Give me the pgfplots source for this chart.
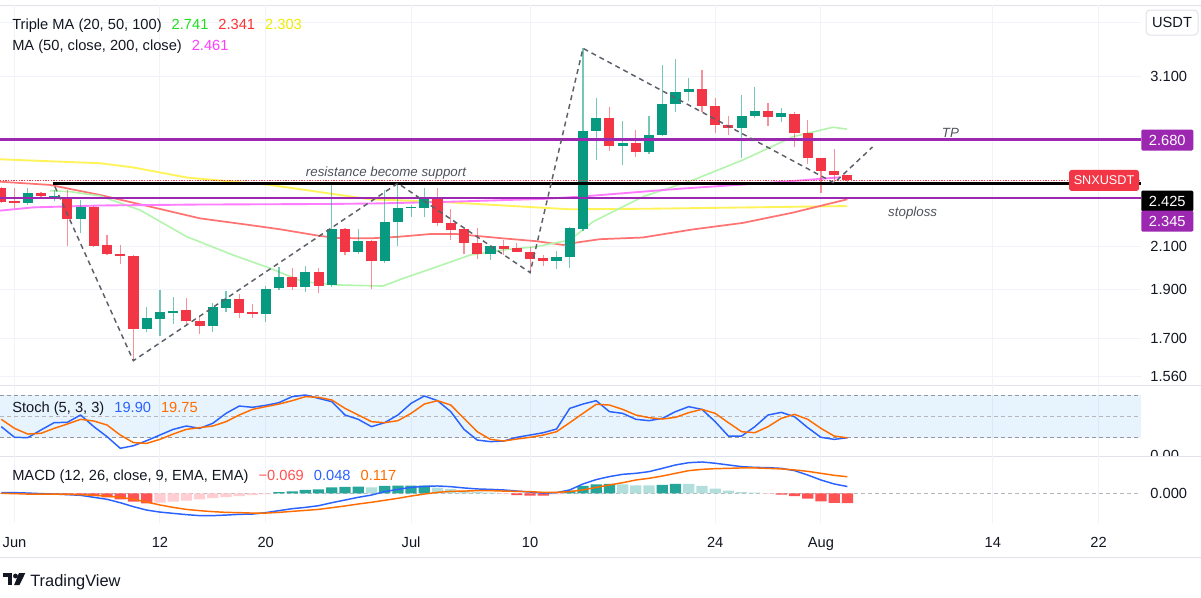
\documentclass[border=0pt]{standalone}
\usepackage{pgfplots}
\pgfplotsset{compat=1.18}
\usepackage{pgfplotstable}
\usepackage{fontspec}
\setmainfont{Liberation Sans}

\definecolor{tvtext}{HTML}{131722}
\definecolor{tvgrey}{HTML}{50535E}
\definecolor{gridc}{HTML}{F0F3FA}
\definecolor{sepc}{HTML}{E0E3EB}
\definecolor{up}{HTML}{089981}
\definecolor{dn}{HTML}{F23645}
\definecolor{purp}{HTML}{9C27B0}
\definecolor{maG}{HTML}{B4F5AE}
\definecolor{maR}{HTML}{FF7373}
\definecolor{maY}{HTML}{FFF35A}
\definecolor{maM}{HTML}{FF7BFF}
\definecolor{legG}{HTML}{1EE01E}
\definecolor{legR}{HTML}{FF3030}
\definecolor{legY}{HTML}{F2EA00}
\definecolor{legM}{HTML}{FF3DFF}
\definecolor{kblue}{HTML}{2962FF}
\definecolor{dorange}{HTML}{FF6D00}
\definecolor{hdg}{HTML}{26A69A}
\definecolor{hlg}{HTML}{B2DFDB}
\definecolor{hdr}{HTML}{FF5252}
\definecolor{hlr}{HTML}{FFCDD2}
\definecolor{zig}{HTML}{5D606B}
\definecolor{band}{HTML}{2196F3}
\definecolor{dashc}{HTML}{9598A1}

% stochastic (k, d) and macd (macd, signal), one row per daily candle
\pgfplotstableread{
d k dd macd sig
-1 35.5 45.8 0.005 0.000
0 20.5 33.1 0.005 -0.002
1 20.0 25.1 0.002 -0.005
2 30.8 26.1 -0.002 -0.005
3 41.1 33.1 -0.005 -0.005
4 41.6 39.2 -0.009 -0.007
5 51.9 45.8 -0.014 -0.009
6 35.5 43.4 -0.028 -0.014
7 21.4 37.8 -0.042 -0.019
8 5.0 23.7 -0.066 -0.028
9 8.7 13.0 -0.094 -0.042
10 15.8 12.0 -0.118 -0.061
11 23.7 17.6 -0.132 -0.082
12 31.7 25.1 -0.141 -0.099
13 36.4 31.7 -0.150 -0.113
14 33.1 34.1 -0.157 -0.122
15 40.2 36.4 -0.157 -0.129
16 54.2 42.5 -0.153 -0.134
17 64.5 51.9 -0.148 -0.136
18 62.7 59.8 -0.146 -0.139
19 65.5 63.6 -0.136 -0.139
20 69.2 67.3 -0.122 -0.134
21 77.7 72.0 -0.108 -0.127
22 80.0 77.7 -0.099 -0.120
23 75.3 76.7 -0.087 -0.113
24 70.6 73.0 -0.066 -0.101
25 51.9 61.2 -0.047 -0.089
26 45.8 51.9 -0.028 -0.075
27 35.5 42.5 -0.012 -0.063
28 41.1 41.1 0.012 -0.049
29 51.9 43.9 0.028 -0.035
30 68.3 54.2 0.042 -0.019
31 78.6 67.3 0.049 -0.005
32 72.0 72.0 0.052 0.007
33 56.6 65.9 0.047 0.014
34 31.7 47.2 0.038 0.016
35 16.7 28.4 0.031 0.019
36 14.4 17.6 0.028 0.019
37 15.3 15.3 0.024 0.016
38 20.5 18.1 0.016 0.014
39 23.7 20.5 0.009 0.012
40 27.0 23.7 0.002 0.007
41 32.2 28.4 0.005 0.007
42 61.2 41.1 0.024 0.012
43 67.3 54.2 0.066 0.024
44 72.0 66.9 0.097 0.042
45 56.6 65.9 0.118 0.059
46 54.2 59.8 0.134 0.075
47 45.8 51.9 0.141 0.094
48 43.9 48.1 0.153 0.106
49 47.2 46.2 0.176 0.122
50 56.6 48.6 0.200 0.141
51 63.6 55.2 0.216 0.160
52 59.8 59.8 0.221 0.169
53 42.5 54.2 0.212 0.174
54 22.3 41.1 0.200 0.176
55 22.3 28.4 0.188 0.179
56 35.5 27.0 0.183 0.179
57 51.9 35.5 0.181 0.176
58 55.6 47.2 0.176 0.172
59 49.5 52.8 0.160 0.165
60 34.1 45.8 0.129 0.155
61 20.5 33.1 0.094 0.141
62 17.6 22.3 0.066 0.127
63 19.9 19.75 0.048 0.117
}\ind

\pgfplotsset{
  tv/.style={scale only axis, width=855.75pt, xmin=-1.097, xmax=85.21,
    axis line style={draw=none}, tick style={draw=none}, major tick length=0pt,
    xtick={0,11,19,30,39,53,61,74,82}, xmajorgrids,
    grid style={draw=gridc, line width=0.75pt},
    clip mode=individual, anchor=north west,
    tick label style={font=\fontsize{11}{13}\selectfont, text=tvtext}},
}
\tikzset{
  lbox/.style={anchor=west, minimum width=39pt, minimum height=15.75pt,
    inner sep=0pt, text=white, rounded corners=1pt, font=\fontsize{11}{13}\selectfont},
  note/.style={font=\itshape\fontsize{10}{12}\selectfont, text=tvgrey},
}

\begin{document}
\begin{tikzpicture}[font=\fontsize{11}{13}\selectfont]
\path[use as bounding box] (0,0) rectangle (900.75pt,-447.75pt);
\fill[white] (0,0) rectangle (900.75pt,-447.75pt);
\draw[sepc, line width=0.75pt] (0,-3.75pt) -- (900.75pt,-3.75pt);
\draw[sepc, line width=0.75pt] (0,-288.75pt) -- (900.75pt,-288.75pt);
\draw[sepc, line width=0.75pt] (0,-342pt) -- (900.75pt,-342pt);
\draw[sepc, line width=0.75pt] (0,-417.75pt) -- (900.75pt,-417.75pt);

% ---------------- price pane
\begin{axis}[tv, at={(0pt,-3.75pt)}, height=285pt,
  ymode=log, ymin=1.5285, ymax=3.647, xticklabels={},
  ytick={1.56,1.7,1.9,2.1,3.1,3.5}, yticklabels={1.560,1.700,1.900,2.100,3.100,{}},
  yticklabel pos=right, ymajorgrids,
  yticklabel style={anchor=west, xshift=3.5pt}]

% moving averages
\addplot[maY, line width=1.4pt] coordinates {(-1.1,2.562)(6.47,2.539)(8.96,2.515)(13.05,2.457)(19.33,2.416)(26.89,2.338)(31.96,2.325)(42.02,2.285)(48.07,2.288)(55.63,2.295)(62.97,2.302)};
\addplot[maR, line width=1.3pt] coordinates {(-1.1,2.434)(2.69,2.416)(6.47,2.361)(10.25,2.299)(14.03,2.238)(17.81,2.204)(20.08,2.183)(23.1,2.150)(24.37,2.140)(26.89,2.138)(28.9,2.145)(31.43,2.159)(33.45,2.159)(36.95,2.138)(39.5,2.124)(41.5,2.106)(42.55,2.118)(44.3,2.134)(47.5,2.142)(51.3,2.182)(55.1,2.215)(58.9,2.268)(63,2.338)};
\addplot[maG, line width=1.2pt] coordinates {(2.69,2.384)(4.2,2.379)(6.47,2.356)(9.5,2.281)(13.03,2.146)(16.53,2.058)(19.33,1.997)(21.82,1.936)(24.37,1.922)(27.87,1.917)(29.39,1.951)(31.94,2.003)(34.46,2.058)(36.95,2.082)(39.5,2.098)(42.02,2.130)(43.76,2.221)(47.54,2.352)(51.32,2.443)(55.1,2.558)(58.89,2.698)(61.91,2.757)(62.97,2.745)};
\addplot[maM, line width=1.4pt] coordinates {(-1.1,2.278)(1.4,2.295)(6.5,2.305)(14,2.310)(24,2.313)(27.6,2.316)(33,2.325)(40,2.340)(42.8,2.352)(50.3,2.395)(57.9,2.432)(62.5,2.459)};

% candles: wicks (low, high) and bodies (open, close)
\addplot[up, opacity=0.55, line width=0.9pt, unbounded coords=jump] coordinates {
(1,2.310)(1,2.399)(1,nan)(3,2.330)(3,2.390)(3,nan)(5,2.164)(5,2.335)(5,nan)
(10,1.725)(10,1.827)(10,nan)(11,1.710)(11,1.900)(11,nan)(12,1.757)(12,1.870)(12,nan)
(15,1.726)(15,1.845)(15,nan)(16,1.808)(16,1.897)(16,nan)(19,1.766)(19,1.917)(19,nan)
(20,1.900)(20,2.004)(20,nan)(22,1.893)(22,2.008)(22,nan)(24,1.915)(24,2.431)(24,nan)
(26,2.062)(26,2.183)(26,nan)(28,2.020)(28,2.388)(28,nan)(29,2.100)(29,2.425)(29,nan)
(30,2.247)(30,2.308)(30,nan)(31,2.244)(31,2.401)(31,nan)(36,2.035)(36,2.105)(36,nan)
(41,1.992)(41,2.078)(41,nan)(42,1.996)(42,2.196)(42,nan)(43,2.175)(43,3.303)(43,nan)
(44,2.558)(44,2.946)(44,nan)(46,2.529)(46,2.799)(46,nan)(48,2.593)(48,2.829)(48,nan)
(49,2.700)(49,3.179)(49,nan)(50,2.857)(50,3.221)(50,nan)(51,2.926)(51,3.084)(51,nan)
(55,2.568)(55,2.968)(55,nan)(56,2.815)(56,3.025)(56,nan)(58,2.790)(58,2.880)};
\addplot[dn, opacity=0.55, line width=0.9pt, unbounded coords=jump] coordinates {
(-1,2.320)(-1,2.405)(-1,nan)(0,2.290)(0,2.399)(0,nan)(2,2.340)(2,2.375)(2,nan)
(4,2.100)(4,2.390)(4,nan)(6,2.095)(6,2.300)(6,nan)(7,2.060)(7,2.155)(7,nan)
(8,2.016)(8,2.106)(8,nan)(9,1.616)(9,2.058)(9,nan)(13,1.753)(13,1.866)(13,nan)
(14,1.718)(14,1.790)(14,nan)(17,1.783)(17,1.883)(17,nan)(18,1.780)(18,1.840)(18,nan)
(21,1.900)(21,1.998)(21,nan)(23,1.888)(23,1.996)(23,nan)(25,2.058)(25,2.188)(25,nan)
(27,1.903)(27,2.130)(27,nan)(32,2.200)(32,2.398)(32,nan)(33,2.130)(33,2.285)(33,nan)
(34,2.062)(34,2.183)(34,nan)(35,2.038)(35,2.188)(35,nan)(37,2.058)(37,2.130)(37,nan)
(38,2.070)(38,2.114)(38,nan)(39,1.981)(39,2.096)(39,nan)(40,2.007)(40,2.058)(40,nan)
(45,2.613)(45,2.890)(45,nan)(47,2.577)(47,2.740)(47,nan)(52,2.857)(52,3.143)(52,nan)
(53,2.723)(53,2.946)(53,nan)(54,2.709)(54,2.829)(54,nan)(57,2.765)(57,2.912)(57,nan)
(59,2.637)(59,2.857)(59,nan)(60,2.535)(60,2.803)(60,nan)(61,2.370)(61,2.570)(61,nan)
(62,2.425)(62,2.621)(62,nan)(63,2.430)(63,2.472)};
\addplot[up, line width=7.6pt, unbounded coords=jump] coordinates {
(1,2.320)(1,2.370)(1,nan)(3,2.352)(3,2.358)(3,nan)(5,2.233)(5,2.297)(5,nan)
(10,1.738)(10,1.782)(10,nan)(11,1.778)(11,1.808)(11,nan)(12,1.804)(12,1.812)(12,nan)
(15,1.751)(15,1.827)(15,nan)(16,1.823)(16,1.861)(16,nan)(19,1.800)(19,1.904)(19,nan)
(20,1.907)(20,1.958)(20,nan)(22,1.914)(22,1.981)(22,nan)(24,1.922)(24,2.183)(24,nan)
(26,2.074)(26,2.126)(26,nan)(28,2.031)(28,2.221)(28,nan)(29,2.221)(29,2.290)(29,nan)
(30,2.290)(30,2.296)(30,nan)(31,2.290)(31,2.343)(31,nan)(36,2.061)(36,2.100)(36,nan)
(41,2.031)(41,2.050)(41,nan)(42,2.047)(42,2.188)(42,nan)(43,2.183)(43,2.735)(43,nan)
(44,2.735)(44,2.818)(44,nan)(46,2.641)(46,2.658)(46,nan)(48,2.607)(48,2.709)(48,nan)
(49,2.707)(49,2.906)(49,nan)(50,2.906)(50,2.991)(50,nan)(51,2.990)(51,3.007)(51,nan)
(55,2.750)(55,2.829)(55,nan)(56,2.829)(56,2.863)(56,nan)(58,2.820)(58,2.846)};
\addplot[dn, line width=7.6pt, unbounded coords=jump] coordinates {
(-1,2.399)(-1,2.324)(-1,nan)(0,2.330)(0,2.320)(0,nan)(2,2.372)(2,2.356)(2,nan)
(4,2.352)(4,2.233)(4,nan)(6,2.297)(6,2.100)(6,nan)(7,2.106)(7,2.063)(7,nan)
(8,2.065)(8,2.054)(8,nan)(9,2.055)(9,1.738)(9,nan)(13,1.815)(13,1.771)(13,nan)
(14,1.771)(14,1.751)(14,nan)(17,1.861)(17,1.804)(17,nan)(18,1.808)(18,1.800)(18,nan)
(21,1.958)(21,1.914)(21,nan)(23,1.981)(23,1.917)(23,nan)(25,2.183)(25,2.074)(25,nan)
(27,2.126)(27,2.031)(27,nan)(32,2.343)(32,2.213)(32,nan)(33,2.215)(33,2.179)(33,nan)
(34,2.183)(34,2.114)(34,nan)(35,2.116)(35,2.061)(35,nan)(37,2.100)(37,2.085)(37,nan)
(38,2.090)(38,2.071)(38,nan)(39,2.074)(39,2.038)(39,nan)(40,2.042)(40,2.031)(40,nan)
(45,2.818)(45,2.641)(45,nan)(47,2.658)(47,2.607)(47,nan)(52,3.007)(52,2.895)(52,nan)
(53,2.895)(53,2.771)(53,nan)(54,2.771)(54,2.750)(54,nan)(57,2.863)(57,2.820)(57,nan)
(59,2.845)(59,2.719)(59,nan)(60,2.719)(60,2.568)(60,nan)(61,2.568)(61,2.494)(61,nan)
(62,2.494)(62,2.472)(62,nan)(63,2.472)(63,2.443)};

% price line, levels, trend drawing
\addplot[dn, line width=0.6pt, dash pattern=on 1pt off 1pt] coordinates {(-1.097,2.443)(85.21,2.443)};
\addplot[purp, line width=2pt] coordinates {(-1.097,2.68)(85.21,2.68)};
\addplot[purp, line width=2pt] coordinates {(-1.097,2.345)(85.21,2.345)};
\addplot[black, line width=2pt] coordinates {(2.94,2.425)(85.21,2.425)};
\addplot[zig, line width=1.1pt, dash pattern=on 3.75pt off 3pt] coordinates {(3.06,2.406)(8.99,1.616)(29.0,2.425)(39.0,1.977)(43.0,3.303)(62.0,2.427)(64.9,2.635)};

\node[note] at (axis cs:28.1,2.485) {resistance become support};
\node[note] at (axis cs:70.8,2.72) {TP};
\node[note] at (axis cs:67.94,2.267) {stoploss};

\node[fill=dn, text=white, rounded corners=2pt, minimum width=52.5pt, minimum height=15.75pt, inner sep=0pt, font=\fontsize{9.5}{11}\selectfont] at (axis description cs:0.9676,0.5382) {SNXUSDT};
\node[lbox, fill=purp] at (axis description cs:1,0.6447) {2.680};
\node[lbox, fill=black] at (axis description cs:1,0.4842) {2.425};
\node[lbox, fill=purp] at (axis description cs:1,0.4311) {2.345};
\end{axis}

% ---------------- stochastic pane
\begin{axis}[tv, at={(0pt,-288.75pt)}, height=53.25pt,
  ymin=-5.8, ymax=94.06, ytick=\empty, xticklabels={}]
\fill[band, fill opacity=0.1] (axis cs:-1.097,20) rectangle (axis cs:85.21,80);
\draw[dashc, line width=0.75pt, dash pattern=on 3pt off 2.25pt] (axis cs:-1.097,80) -- (axis cs:85.21,80);
\draw[dashc!70, line width=0.75pt, dash pattern=on 3pt off 2.25pt] (axis cs:-1.097,50) -- (axis cs:85.21,50);
\draw[dashc, line width=0.75pt, dash pattern=on 3pt off 2.25pt] (axis cs:-1.097,20) -- (axis cs:85.21,20);
\addplot[kblue, line width=1.1pt, line join=round] table[x=d, y=k] {\ind};
\addplot[dorange, line width=1.1pt, line join=round] table[x=d, y=dd] {\ind};
\end{axis}

% ---------------- macd pane
\begin{axis}[tv, at={(0pt,-342pt)}, height=50.25pt,
  ymin=-0.209, ymax=0.263, ytick=\empty,
  xticklabels={Jun,12,20,Jul,10,24,Aug,14,22},
  xticklabel style={anchor=base, yshift=-18pt}]
\draw[dashc!70, line width=0.75pt, dash pattern=on 3pt off 2.25pt] (axis cs:-1.097,0) -- (axis cs:85.21,0);
\addplot[ybar, bar width=0.85, bar shift=0pt, draw=none, fill=hdr] coordinates {(3,-0.001)(4,-0.003)(5,-0.005)(6,-0.019)(7,-0.028)(8,-0.042)(9,-0.059)(10,-0.071)(38,-0.012)(39,-0.016)(40,-0.016)(58,-0.009)(59,-0.019)(60,-0.038)(61,-0.056)(62,-0.068)(63,-0.069)};
\addplot[ybar, bar width=0.85, bar shift=0pt, draw=none, fill=hlr] coordinates {(11,-0.066)(12,-0.059)(13,-0.052)(14,-0.042)(15,-0.033)(16,-0.026)(17,-0.019)(18,-0.012)(19,-0.005)(37,-0.003)(41,-0.007)(57,-0.003)};
\addplot[ybar, bar width=0.85, bar shift=0pt, draw=none, fill=hdg] coordinates {(20,0.009)(21,0.014)(22,0.024)(23,0.028)(24,0.042)(25,0.045)(26,0.047)(28,0.052)(29,0.054)(30,0.054)(31,0.054)(42,0.019)(43,0.052)(44,0.063)(45,0.066)(49,0.059)(50,0.066)};
\addplot[ybar, bar width=0.85, bar shift=0pt, draw=none, fill=hlg] coordinates {(27,0.042)(32,0.040)(33,0.031)(34,0.019)(35,0.009)(36,0.005)(46,0.063)(47,0.056)(48,0.056)(51,0.066)(52,0.052)(53,0.033)(54,0.019)(55,0.009)(56,0.005)};
\addplot[kblue, line width=1.1pt, line join=round] table[x=d, y=macd] {\ind};
\addplot[dorange, line width=1.1pt, line join=round] table[x=d, y=sig] {\ind};
\node[anchor=west, xshift=3.5pt, text=tvtext] at (axis cs:85.21,0) {0.000};
\end{axis}

% ---------------- titles, scale labels, logo
\node[anchor=base west, inner sep=0pt, text=tvtext] at (9pt,-22pt)
  {Triple MA (20, 50, 100)\hspace{7.5pt}\textcolor{legG}{2.741}\hspace{7.5pt}\textcolor{legR}{2.341}\hspace{7.5pt}\textcolor{legY}{2.303}};
\node[anchor=base west, inner sep=0pt, text=tvtext] at (9pt,-37.7pt)
  {MA (50, close, 200, close)\hspace{7.5pt}\textcolor{legM}{2.461}};
\node[anchor=base west, inner sep=0pt, text=tvtext] at (9pt,-309pt)
  {Stoch (5, 3, 3)\hspace{7.5pt}\textcolor{kblue}{19.90}\hspace{7.5pt}\textcolor{dorange}{19.75}};
\node[anchor=base west, inner sep=0pt, text=tvtext] at (9pt,-360.7pt)
  {MACD (12, 26, close, 9, EMA, EMA)\hspace{7.5pt}\textcolor{hdr}{\textminus0.069}\hspace{7.5pt}\textcolor{kblue}{0.048}\hspace{7.5pt}\textcolor{dorange}{0.117}};

\node[draw=sepc, line width=0.75pt, rounded corners=3pt, minimum width=39pt, minimum height=18.75pt, inner sep=0pt, text=tvtext] at (879pt,-16.9pt) {USDT};

\begin{scope}
\clip (855.75pt,-288.75pt) rectangle (900.75pt,-341.25pt);
\node[anchor=west, text=tvtext] at (859.25pt,-341.25pt) {0.00};
\end{scope}

\fill[tvtext] (2.25pt,-429.75pt) rectangle (9pt,-432.75pt);
\fill[tvtext] (6pt,-429.75pt) rectangle (9pt,-438.75pt);
\fill[tvtext] (11.6pt,-432pt) circle (1.8pt);
\fill[tvtext] (14.25pt,-429.75pt) -- (19pt,-429.75pt) -- (14.6pt,-438.75pt) -- (10.6pt,-438.75pt) -- cycle;
\node[anchor=base west, inner sep=0pt, text=tvtext, font=\fontsize{12.3}{14}\selectfont] at (22.5pt,-439.5pt) {TradingView};
\end{tikzpicture}
\end{document}
